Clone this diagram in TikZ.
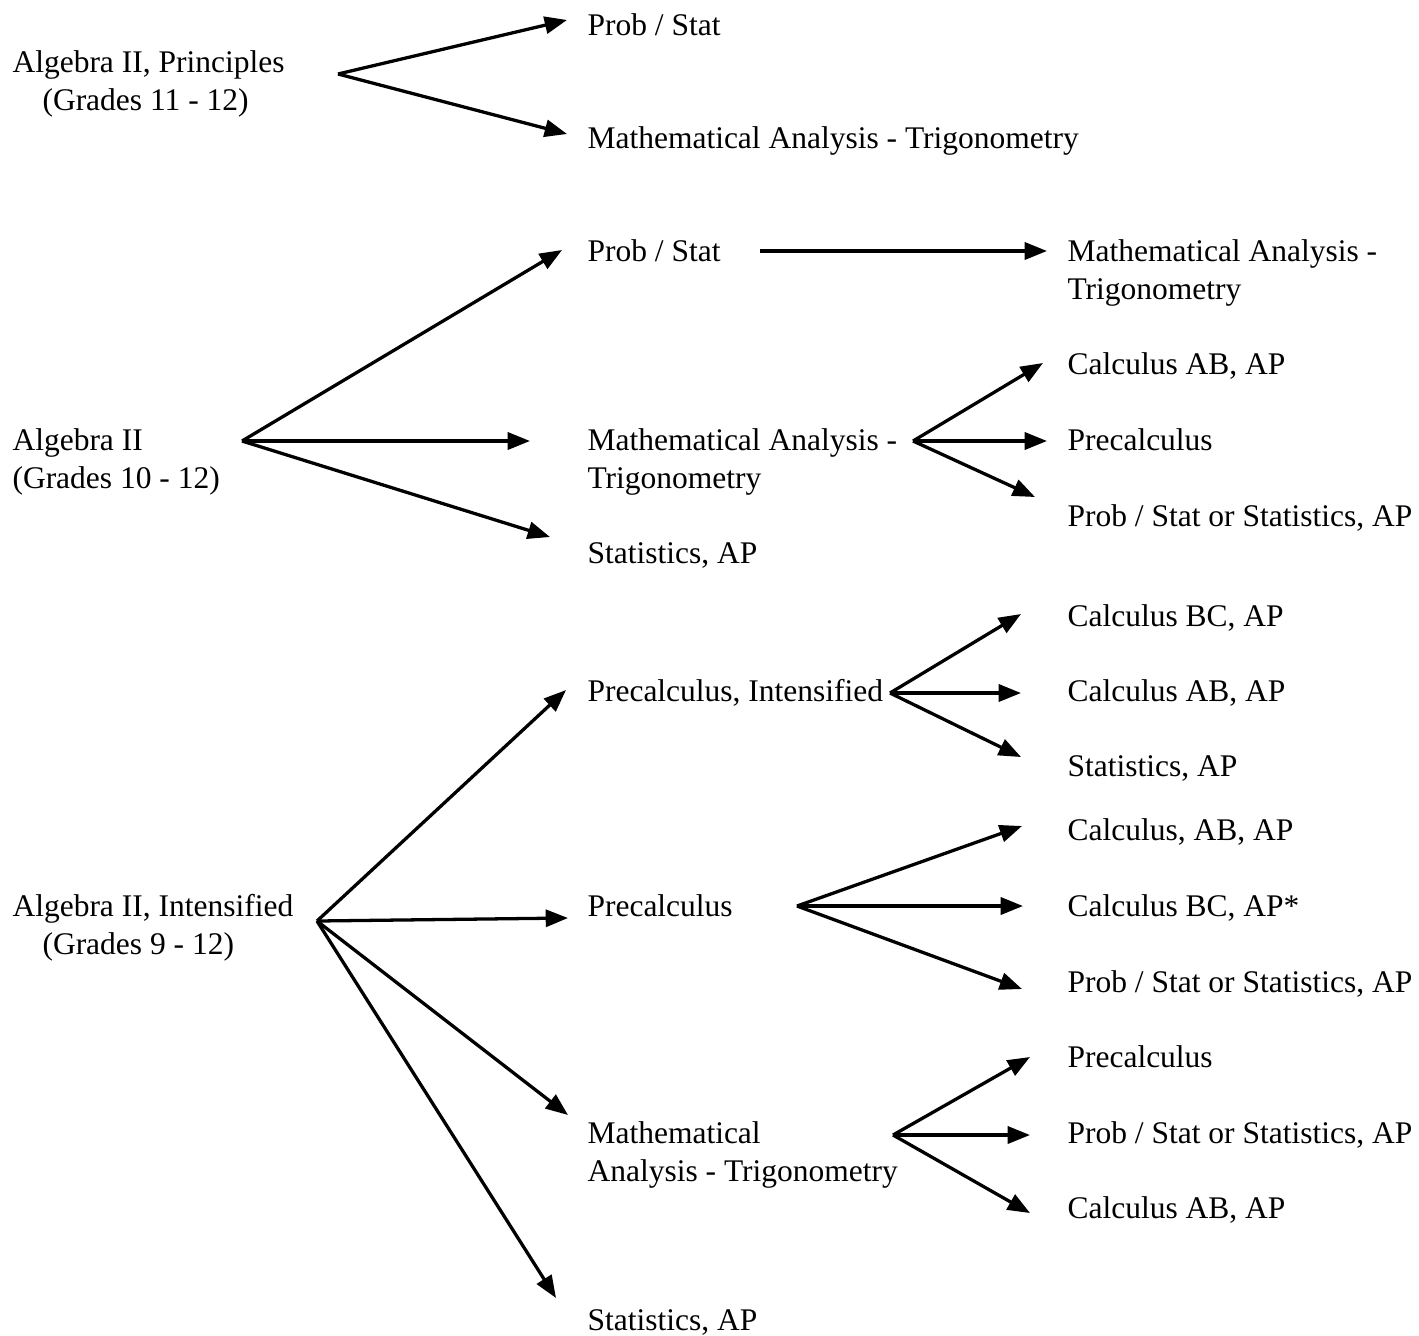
\documentclass[tikz,border=0pt]{standalone}
\usepackage{fontspec}
\setmainfont{Liberation Serif}
\usetikzlibrary{arrows.meta}

\tikzset{
  lbl/.style={inner sep=0pt, anchor=west, text height=9pt, text depth=1pt},
  arr/.style={-{Triangle[length=8.5pt,width=6.5pt]}, line width=1.25pt},
}

\begin{document}
\begin{tikzpicture}[x=0.381pt, y=-0.381pt, font=\fontsize{12}{14.5}\selectfont]
    \useasboundingbox (0,0) rectangle (1419,1335);

    % Algebra II, Principles
    \node[lbl] (ap) at (12,62) {Algebra II, Principles};
    \node[lbl] (apg) at ([shift={(30,38)}]ap.west) {(Grades 11 - 12)};
    \node[lbl] (ps1) at (587,25) {Prob / Stat};
    \node[lbl] (ma1) at (587,138) {Mathematical Analysis - Trigonometry};
    \coordinate (fap) at (338,74);
    \draw[arr] (fap) -- ([shift={(-20,-5)}]ps1.west);
    \draw[arr] (fap) -- ([shift={(-20,-4)}]ma1.west);

    % Algebra II
    \node[lbl] (a2) at (12,440) {Algebra II};
    \node[lbl] (a2g) at ([shift={(0,38)}]a2.west) {(Grades 10 - 12)};
    \node[lbl] (ps2) at (587,251) {Prob / Stat};
    \node[lbl] (ma2) at (587,440) {Mathematical Analysis -};
    \node[lbl] (ma2b) at ([shift={(0,38)}]ma2.west) {Trigonometry};
    \node[lbl] (st2) at (587,553) {Statistics, AP};
    \coordinate (fa2) at (242,441);
    \draw[arr] (fa2) -- ([shift={(-25,-1)}]ps2.west);
    \draw[arr] (fa2) -- ([shift={(-57,1)}]ma2.west);
    \draw[arr] (fa2) -- ([shift={(-37,-16)}]st2.west);

    % after Prob / Stat
    \node[lbl] (ma3) at (1067,251) {Mathematical Analysis -};
    \node[lbl] (ma3b) at ([shift={(0,38)}]ma3.west) {Trigonometry};
    \coordinate (fps2) at (760,251);
    \draw[arr] (fps2) -- ([shift={(-20,0)}]ma3.west);

    % after Mathematical Analysis - Trigonometry
    \node[lbl] (cab2) at (1067,364) {Calculus AB, AP};
    \node[lbl] (pc2) at (1067,440) {Precalculus};
    \node[lbl] (pss2) at (1067,516) {Prob / Stat or Statistics, AP};
    \coordinate (fma2) at (913,441);
    \draw[arr] (fma2) -- ([shift={(-24,-1)}]cab2.west);
    \draw[arr] (fma2) -- ([shift={(-20,1)}]pc2.west);
    \draw[arr] (fma2) -- ([shift={(-32,-19)}]pss2.west);

    % Algebra II, Intensified
    \node[lbl] (ai) at (12,906) {Algebra II, Intensified};
    \node[lbl] (aig) at ([shift={(30,38)}]ai.west) {(Grades 9 - 12)};
    \node[lbl] (pci) at (587,691) {Precalculus, Intensified};
    \node[lbl] (pc4) at (587,906) {Precalculus};
    \node[lbl] (ma4) at (587,1133) {Mathematical};
    \node[lbl] (ma4b) at ([shift={(0,38)}]ma4.west) {Analysis - Trigonometry};
    \node[lbl] (st4) at (587,1320) {Statistics, AP};
    \coordinate (fai) at (317,921);
    \draw[arr] (fai) -- ([shift={(-21,-1)}]pci.west);
    \draw[arr] (fai) -- ([shift={(-19,12)}]pc4.west);
    \draw[arr] (fai) -- ([shift={(-19,-18)}]ma4.west);
    \draw[arr] (fai) -- ([shift={(-31,-22)}]st4.west);

    % after Precalculus, Intensified
    \node[lbl] (cbc3) at (1067,616) {Calculus BC, AP};
    \node[lbl] (cab3) at (1067,691) {Calculus AB, AP};
    \node[lbl] (st3) at (1067,766) {Statistics, AP};
    \coordinate (fpci) at (890,693);
    \draw[arr] (fpci) -- ([shift={(-46,-2)}]cbc3.west);
    \draw[arr] (fpci) -- ([shift={(-46,2)}]cab3.west);
    \draw[arr] (fpci) -- ([shift={(-46,-9)}]st3.west);

    % after Precalculus
    \node[lbl] (cab4) at (1067,830) {Calculus, AB, AP};
    \node[lbl] (cbc4) at (1067,906) {Calculus BC, AP*};
    \node[lbl] (pss4) at (1067,982) {Prob / Stat or Statistics, AP};
    \coordinate (fpc4) at (797,906);
    \draw[arr] (fpc4) -- ([shift={(-45,-4)}]cab4.west);
    \draw[arr] (fpc4) -- ([shift={(-44,0)}]cbc4.west);
    \draw[arr] (fpc4) -- ([shift={(-45,7)}]pss4.west);

    % after Mathematical Analysis - Trigonometry
    \node[lbl] (pc5) at (1067,1057) {Precalculus};
    \node[lbl] (pss5) at (1067,1133) {Prob / Stat or Statistics, AP};
    \node[lbl] (cab5) at (1067,1208) {Calculus AB, AP};
    \coordinate (fma4) at (893,1135);
    \draw[arr] (fma4) -- ([shift={(-37,0)}]pc5.west);
    \draw[arr] (fma4) -- ([shift={(-37,2)}]pss5.west);
    \draw[arr] (fma4) -- ([shift={(-37,5)}]cab5.west);
\end{tikzpicture}
\end{document}
